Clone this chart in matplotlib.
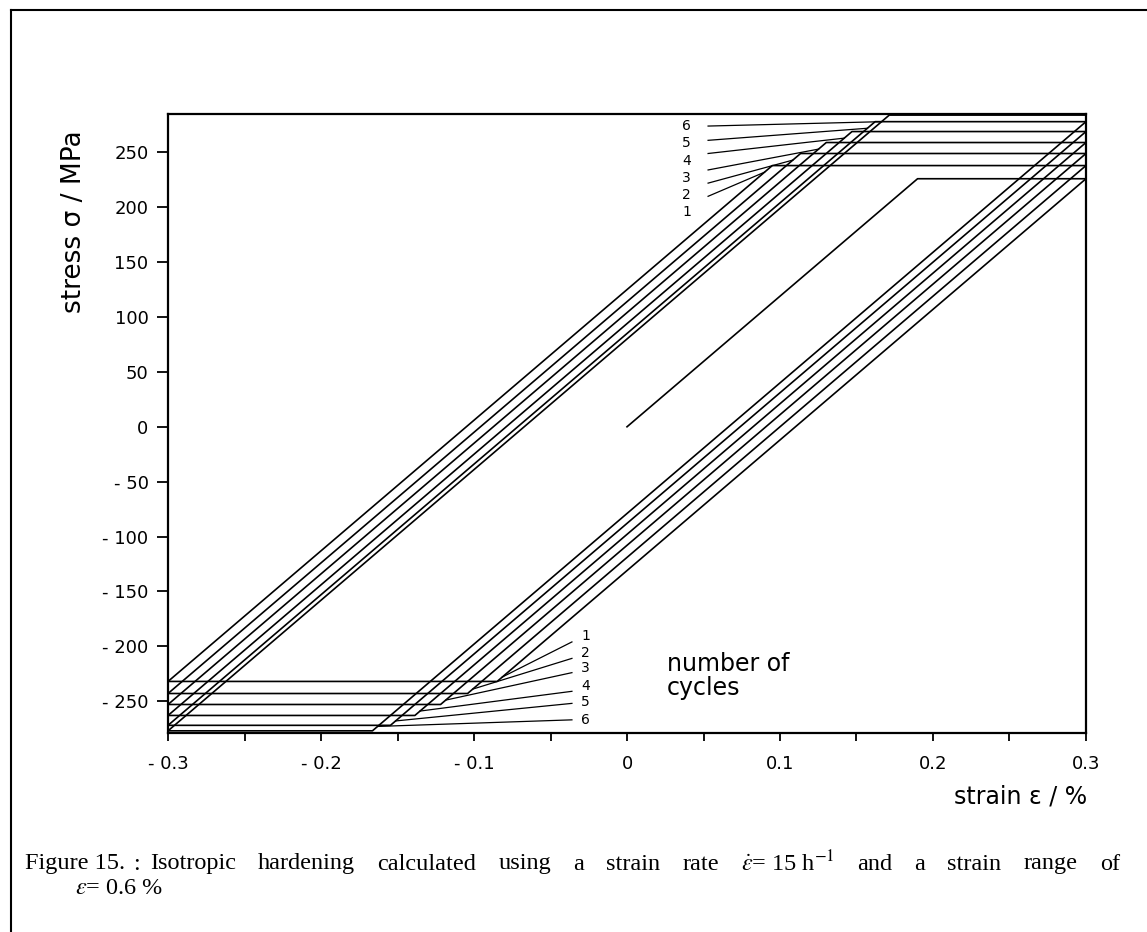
#import modules
import matplotlib
matplotlib.use("Agg")
import matplotlib.pyplot as plt
from matplotlib.lines import Line2D
import numpy as np

plt.rcParams['font.family'] = ['DejaVu Sans']
plt.rcParams['mathtext.fontset'] = 'stix'

#Defining the data (strain in %, stress in MPa)
strain_amp = 0.3
e_modulus = 1190.0          # slope of the elastic branches, MPa per %
first_yield = 226.0         # end of the initial loading
tension_peaks = [238, 249, 259, 269, 278, 284]        # cycles 1..6
compression_peaks = [-232, -243, -253, -263, -272, -277]
cycle_labels = ["1", "2", "3", "4", "5", "6"]

x_ticks = [-0.3, -0.2, -0.1, 0.0, 0.1, 0.2, 0.3]
x_ticklabels = ["- 0.3", "- 0.2", "- 0.1", "0", "0.1", "0.2", "0.3"]
y_ticks = [-250, -200, -150, -100, -50, 0, 50, 100, 150, 200, 250]
y_ticklabels = ["- 250", "- 200", "- 150", "- 100", "- 50", "0",
                "50", "100", "150", "200", "250"]

# label / pointer positions
upper_label_y = [196, 211, 227, 242, 259, 274]
upper_pointer_y = [210, 222, 234, 249, 261, 274]
lower_label_y = [-191, -206, -220, -236, -251, -267]
lower_pointer_y = [-196, -211, -224, -241, -252, -267]

caption_words = ["Isotropic", "hardening", "calculated", "using", "a",
                 "strain", "rate", r"$\dot{\varepsilon}$= 15 h$^{-1}$",
                 "and", "a", "strain", "range", "of"]


def branch(eps0, sig0, sig_target, eps_end):
    # elastic line with slope e_modulus, then flat at sig_target
    eps_kink = eps0 + (sig_target - sig0) / e_modulus
    return [eps0, eps_kink, eps_end], [sig0, sig_target, sig_target]


#Creating Figure & axes
W, H = 1147, 932
fig = plt.figure(figsize=(W / 100, H / 100), dpi=100)
ax = fig.add_axes([0.1465, 0.2135, 0.8003, 0.6642])

lw = 1.2
# initial loading
xs, ys = branch(0.0, 0.0, first_yield, strain_amp)
ax.plot(xs, ys, color="black", lw=lw)

prev_top = first_yield
down_kinks = []
up_kinks = []
for c, t in zip(compression_peaks, tension_peaks):
    xs, ys = branch(strain_amp, prev_top, c, -strain_amp)
    ax.plot(xs, ys, color="black", lw=lw)
    down_kinks.append((xs[1], c))
    xs, ys = branch(-strain_amp, c, t, strain_amp)
    ax.plot(xs, ys, color="black", lw=lw)
    up_kinks.append((xs[1], t))
    prev_top = t

# cycle labels with pointer lines
for i, lab in enumerate(cycle_labels):
    ke, ks = up_kinks[i]
    ax.plot([0.053, ke - 6 / e_modulus], [upper_pointer_y[i], ks - 6],
            color="black", lw=0.9)
    ax.text(0.039, upper_label_y[i], lab, fontsize=10, ha="center",
            va="center")
    ke, ks = down_kinks[i]
    ax.plot([-0.036, ke + 4 / e_modulus], [lower_pointer_y[i], ks + 4],
            color="black", lw=0.9)
    ax.text(-0.027, lower_label_y[i], lab, fontsize=10, ha="center",
            va="center")

#axes styling
ax.set_xlim(-0.3, 0.3)
ax.set_ylim(-279, 285)
ax.set_xticks(x_ticks)
ax.set_xticklabels(x_ticklabels, fontsize=13)
ax.set_xticks(np.arange(-0.25, 0.3, 0.1), minor=True)
ax.set_yticks(y_ticks)
ax.set_yticklabels(y_ticklabels, fontsize=13)
ax.tick_params(axis="x", which="both", direction="out", length=6,
               width=1.3, pad=10)
ax.tick_params(axis="y", direction="out", length=8, width=1.3, pad=6)
for sp in ax.spines.values():
    sp.set_linewidth(1.6)

#texts
fig.text(0.0645, 0.762, "stress σ / MPa", rotation=90, fontsize=19,
         ha="center", va="center")
fig.text(1087 / W, 0.145, "strain ε / %", fontsize=17, ha="right",
         va="center")
fig.text(667 / W, 1 - 652 / H, "number of\ncycles", fontsize=17,
         ha="left", va="top", linespacing=1.0)

# caption, first line spread out to the full width like the print
cap_font = dict(family="Liberation Serif", fontsize=17.5)
cap_y = 1 - 864 / H
fig.text(25 / W, cap_y, "Figure 15.", va="center", **cap_font)
fig.text(133 / W, cap_y, ":", va="center", **cap_font)
renderer = fig.canvas.get_renderer()
word_texts = [fig.text(0, cap_y, w, va="center", **cap_font)
              for w in caption_words]
widths = [t.get_window_extent(renderer).width for t in word_texts]
x_left, x_right = 150, 1120
gap = (x_right - x_left - sum(widths)) / (len(widths) - 1)
xpos = x_left
for t, w in zip(word_texts, widths):
    t.set_x(xpos / W)
    xpos += w + gap
fig.text(75 / W, 1 - 888 / H, r"$\varepsilon$= 0.6 %", va="center",
         **cap_font)

# page border
fig.add_artist(Line2D([11 / W, 11 / W], [0, 1 - 10 / H],
                      transform=fig.transFigure, color="black", lw=1.5))
fig.add_artist(Line2D([11 / W, 1], [1 - 10 / H, 1 - 10 / H],
                      transform=fig.transFigure, color="black", lw=1.5))

fig.savefig("out.png", dpi=100)
